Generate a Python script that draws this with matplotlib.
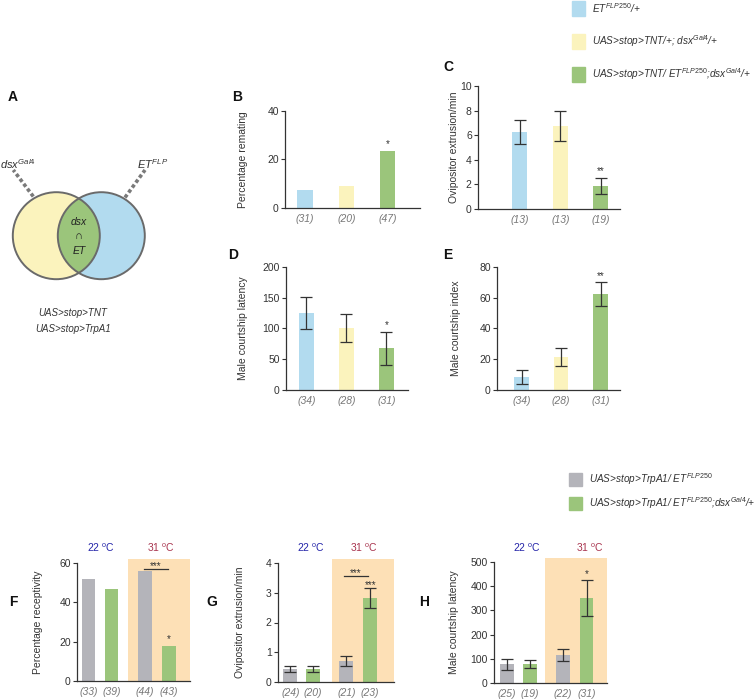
import matplotlib
matplotlib.use("Agg")
import matplotlib.pyplot as plt
from matplotlib.patches import Circle, Rectangle
from matplotlib.transforms import blended_transform_factory

plt.rcParams['font.family'] = 'Liberation Sans'
plt.rcParams['mathtext.fontset'] = 'custom'
plt.rcParams['mathtext.rm'] = 'Liberation Sans'
plt.rcParams['mathtext.it'] = 'Liberation Sans:italic'
plt.rcParams['mathtext.bf'] = 'Liberation Sans:bold'

# ---------------- data ----------------
# Panels B-E (three genotypes)
n_B = ["(31)", "(20)", "(47)"]
remating = [7.5, 9.0, 23.6]
n_C = ["(13)", "(13)", "(19)"]
ovi_C = [6.25, 6.75, 1.88]
ovi_C_sem = [1.0, 1.2, 0.65]
n_D = ["(34)", "(28)", "(31)"]
lat_D = [125, 101, 68]
lat_D_sem = [26, 23, 27]
n_E = ["(34)", "(28)", "(31)"]
ci_E = [8.7, 21.5, 62.5]
ci_E_sem = [4.5, 6.0, 7.7]
sig_B, sig_C, sig_D, sig_E = "*", "**", "*", "**"

# Panels F-H (22 C pair, 31 C pair)
n_F = ["(33)", "(39)", "(44)", "(43)"]
recept_F = [52.0, 47.0, 55.8, 18.0]
n_G = ["(24)", "(20)", "(21)", "(23)"]
ovi_G = [0.43, 0.45, 0.70, 2.82]
ovi_G_sem = [0.10, 0.10, 0.17, 0.33]
n_H = ["(25)", "(19)", "(22)", "(31)"]
lat_H = [77, 78, 115, 350]
lat_H_sem = [23, 16, 25, 74]

legend1 = [r"$\mathit{ET}^{\mathit{FLP250}}$/+",
           r"UAS>stop>TNT/+; $\mathit{dsx}^{\mathit{Gal4}}$/+",
           r"UAS>stop>TNT/ $\mathit{ET}^{\mathit{FLP250}}$;$\mathit{dsx}^{\mathit{Gal4}}$/+"]
legend2 = [r"UAS>stop>TrpA1/ $\mathit{ET}^{\mathit{FLP250}}$",
           r"UAS>stop>TrpA1/ $\mathit{ET}^{\mathit{FLP250}}$;$\mathit{dsx}^{\mathit{Gal4}}$/+"]

BLUE = "#b2dbef"
YEL = "#fbf3bd"
GRN = "#9bc57b"
GRAY = "#b4b4ba"
ORANGE = "#fde0b6"
AX = "#333333"
C3 = [BLUE, YEL, GRN]
C4 = [GRAY, GRN, GRAY, GRN]
pos3 = [0, 1, 2]
pos4 = [0, 1, 2.45, 3.5]

W, H = 756, 699
fig = plt.figure(figsize=(W / 100, H / 100), dpi=100)


def ax_px(l, t, r, b):
    return fig.add_axes([l / W, 1 - b / H, (r - l) / W, (b - t) / H])


def ftext(x, y, s, **kw):
    return fig.text(x / W, 1 - y / H, s, **kw)


def style(ax, ylim, yticks, xlim, ylabel, labx_px, axl_px, axw_px, nlabels, pos):
    ax.set_ylim(*ylim)
    ax.set_xlim(*xlim)
    ax.set_yticks(yticks)
    for s in ["top", "right"]:
        ax.spines[s].set_visible(False)
    for s in ["left", "bottom"]:
        ax.spines[s].set_color(AX)
        ax.spines[s].set_linewidth(0.9)
    ax.tick_params(axis='y', direction='out', length=3, width=0.8, colors=AX,
                   labelsize=7.5, pad=1.5)
    ax.set_xticks(pos)
    ax.set_xticklabels(nlabels)
    ax.tick_params(axis='x', length=0, pad=4, labelsize=7.5, labelcolor="#777777")
    for lab in ax.get_xticklabels():
        lab.set_fontstyle('italic')
    ax.set_ylabel(ylabel, fontsize=7.5, color=AX)
    ax.yaxis.set_label_coords((labx_px - axl_px) / axw_px, 0.5)


def star(ax, x, y, s, dy=1.0):
    ax.annotate(s, (x, y), xytext=(0, dy), textcoords='offset points',
                ha='center', va='bottom', fontsize=7, color=AX)


ekw = dict(fmt='none', ecolor=AX, elinewidth=0.9, capsize=4.5, capthick=0.9, zorder=3)

# ---------------- Panel B ----------------
axB = ax_px(285, 111, 420, 208)
axB.bar(pos3, remating, width=0.37, color=C3)
style(axB, (0, 40), [0, 20, 40], (-0.48, 2.78), "Percentage remating", 248, 285, 135, n_B, pos3)
star(axB, 2, remating[2], sig_B)

# ---------------- Panel C ----------------
axC = ax_px(478, 86, 620, 209)
axC.bar(pos3, ovi_C, width=0.37, color=C3)
axC.errorbar(pos3, ovi_C, yerr=ovi_C_sem, **ekw)
style(axC, (0, 10), [0, 2, 4, 6, 8, 10], (-1.04, 2.48), "Ovipositor extrusion/min", 459, 478, 142, n_C, pos3)
star(axC, 2, ovi_C[2] + ovi_C_sem[2], sig_C)

# ---------------- Panel D ----------------
axD = ax_px(286, 267, 408, 390)
axD.bar(pos3, lat_D, width=0.37, color=C3)
axD.errorbar(pos3, lat_D, yerr=lat_D_sem, **ekw)
style(axD, (0, 200), [0, 50, 100, 150, 200], (-0.51, 2.54), "Male courtship latency", 248, 286, 122, n_D, pos3)
star(axD, 2, lat_D[2] + lat_D_sem[2], sig_D)

# ---------------- Panel E ----------------
axE = ax_px(497, 267, 620, 390)
axE.bar(pos3, ci_E, width=0.37, color=C3)
axE.errorbar(pos3, ci_E, yerr=ci_E_sem, **ekw)
style(axE, (0, 80), [0, 20, 40, 60, 80], (-0.62, 2.49), "Male courtship index", 461, 497, 123, n_E, pos3)
star(axE, 2, ci_E[2] + ci_E_sem[2], sig_E)


def band(ax, x0):
    tr = blended_transform_factory(ax.transData, ax.transAxes)
    x1 = ax.get_xlim()[1]
    ax.add_patch(Rectangle((x0, 0), x1 - x0, 1.03, transform=tr, color=ORANGE,
                           zorder=0, clip_on=False, lw=0))


# ---------------- Panel F ----------------
axF = ax_px(77, 563, 190, 681)
style(axF, (0, 60), [0, 20, 40, 60], (-0.5, 4.42), "Percentage receptivity", 43, 77, 113, n_F, pos4)
band(axF, 1.73)
axF.bar(pos4, recept_F, width=0.6, color=C4, zorder=2)
star(axF, 3.5, recept_F[3], "*")
axF.plot([2.4, 3.45], [57.2, 57.2], color=AX, lw=0.9)
star(axF, 2.93, 57.2, "***", dy=-1.5)

# ---------------- Panel G ----------------
axG = ax_px(278, 563, 394, 682)
style(axG, (0, 4), [0, 1, 2, 3, 4], (-0.54, 4.54), "Ovipositor extrusion/min", 245, 278, 116, n_G, pos4)
band(axG, 1.83)
axG.bar(pos4, ovi_G, width=0.62, color=C4, zorder=2)
axG.errorbar(pos4, ovi_G, yerr=ovi_G_sem, **ekw)
star(axG, 3.5, ovi_G[3] + ovi_G_sem[3], "***", dy=-1.5)
axG.plot([2.35, 3.4], [3.55, 3.55], color=AX, lw=0.9)
star(axG, 2.88, 3.55, "***", dy=-1.5)

# ---------------- Panel H ----------------
axH = ax_px(494, 562, 607, 683)
style(axH, (0, 500), [0, 100, 200, 300, 400, 500], (-0.58, 4.4), "Male courtship latency", 459, 494, 113, n_H, pos4)
band(axH, 1.67)
axH.bar(pos4, lat_H, width=0.6, color=C4, zorder=2)
axH.errorbar(pos4, lat_H, yerr=lat_H_sem, **ekw)
star(axH, 3.5, lat_H[3] + lat_H_sem[3], "*")

# temperature labels
for (x22, x31) in [(101, 161), (311, 364), (527, 590)]:
    ftext(x22, 548, r"22 $^{\rm o}$C", color="#2323a8", fontsize=7.5, ha='center', va='center')
    ftext(x31, 548, r"31 $^{\rm o}$C", color="#a8344e", fontsize=7.5, ha='center', va='center')

# ---------------- panel letters ----------------
for lab, x, y in [("A", 13, 97), ("B", 237, 97), ("C", 448, 67), ("D", 233, 255),
                  ("E", 448, 255), ("F", 13, 602), ("G", 212, 602), ("H", 424, 602)]:
    ftext(x, y, lab, fontsize=10, fontweight='bold', ha='center', va='center', color="#111111")

# ---------------- legends ----------------
for i, (c, t) in enumerate(zip(C3, legend1)):
    y = 8.5 + i * 33
    fig.patches.append(Rectangle((572 / W, 1 - (y + 7) / H), 13 / W, 14 / H,
                                 transform=fig.transFigure, color=c, figure=fig))
    ftext(592, y, t, fontsize=7.2, fontstyle='italic', color=AX, va='center')
for i, (c, t) in enumerate(zip([GRAY, GRN], legend2)):
    y = 479 + i * 24.5
    fig.patches.append(Rectangle((569 / W, 1 - (y + 6.5) / H), 13 / W, 13 / H,
                                 transform=fig.transFigure, color=c, figure=fig))
    ftext(589, y, t, fontsize=7.2, fontstyle='italic', color=AX, va='center')

# ---------------- Venn (panel A) ----------------
axA = ax_px(0, 140, 180, 340)
axA.set_xlim(0, 180)
axA.set_ylim(340, 140)
axA.axis('off')
cy = Circle((56.3, 235.7), 43.5, facecolor=YEL, edgecolor='none')
cb = Circle((101.3, 235.7), 43.5, facecolor=BLUE, edgecolor='none')
axA.add_patch(cy)
axA.add_patch(cb)
cg = Circle((101.3, 235.7), 43.5, facecolor=GRN, edgecolor='none')
axA.add_patch(cg)
cg.set_clip_path(cy)
for cx in (56.3, 101.3):
    axA.add_patch(Circle((cx, 235.7), 43.5, facecolor='none', edgecolor='#6a6a6a', lw=1.4))
axA.plot([33.3, 13.3], [196.5, 170], ls=(0, (1.0, 0.7)), lw=2.6, color='#7a7a7a')
axA.plot([125, 145], [197.5, 170], ls=(0, (1.0, 0.7)), lw=2.6, color='#7a7a7a')
axA.text(0, 164, r"$dsx^{\mathit{Gal4}}$", fontsize=8, ha='left', va='center', color=AX)
axA.text(137, 164, r"$\mathit{ET}^{\mathit{FLP}}$", fontsize=8, ha='left', va='center', color=AX)
axA.text(79, 222.5, "dsx", fontsize=7.5, fontstyle='italic', ha='center', va='center', color="#222")
axA.text(79, 236, "∩", fontsize=8, ha='center', va='center', color="#222")
axA.text(79, 251, "ET", fontsize=7.5, fontstyle='italic', ha='center', va='center', color="#222")
ftext(73, 313, "UAS>stop>TNT", fontsize=7, fontstyle='italic', ha='center', va='center', color=AX)
ftext(73, 329, "UAS>stop>TrpA1", fontsize=7, fontstyle='italic', ha='center', va='center', color=AX)

fig.savefig("out.png", dpi=100)
